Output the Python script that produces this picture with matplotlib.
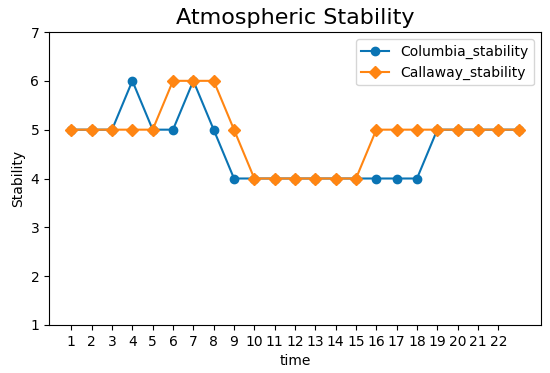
import matplotlib
matplotlib.use("Agg")
import matplotlib.pyplot as plt

time = list(range(1, 24))
columbia = [5, 5, 5, 6, 5, 5, 6, 5, 4, 4, 4, 4, 4, 4, 4, 4, 4, 4, 5, 5, 5, 5, 5]
callaway = [5, 5, 5, 5, 5, 6, 6, 6, 5, 4, 4, 4, 4, 4, 4, 5, 5, 5, 5, 5, 5, 5, 5]
xticks = list(range(1, 23))

fig = plt.figure(figsize=(5.5, 3.73), dpi=100)
ax = fig.add_axes([49/550, 48/373, 492/550, 293/373])
ax.plot(time, columbia, marker='o', color='#0a74b4', label='Columbia_stability')
ax.plot(time, callaway, marker='D', color='#ff8512', label='Callaway_stability')
ax.set_ylim(1, 7)
ax.set_xticks(xticks)
ax.set_xlabel('time')
ax.set_ylabel('Stability')
ax.set_title('Atmospheric Stability', fontsize=16)
ax.legend(loc='upper right')
fig.savefig('out.png', dpi=100)
